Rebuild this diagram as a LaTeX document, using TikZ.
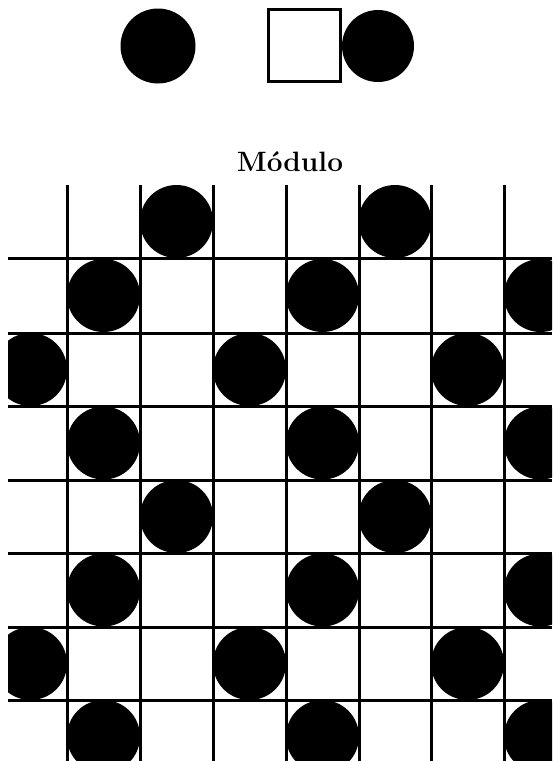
\documentclass[tikz,border=0pt]{standalone}
\usepackage{fontspec}
\begin{document}
\begin{tikzpicture}[x=1pt,y=-1pt,
  disc/.style={fill=black},
  gridline/.style={line width=3pt,draw=black},
  framebox/.style={line width=3pt,draw=black},
  titletext/.style={font=\fontsize{28}{30}\selectfont\bfseries,anchor=base,inner sep=0pt}]
\useasboundingbox (0,0) rectangle (552,761);
\fill[white] (0,0) rectangle (552,761);
% top legend
\fill[disc] (158,46) circle (37.5);
\draw[framebox] (268.5,9.5) rectangle (340.5,81.5);
\fill[disc] (378,46) circle (36);
\node[titletext] (title) at (290,171) {Módulo};
% pattern
\begin{scope}
\clip (8,185) rectangle (552,761);
\foreach \cx/\cy in {
  176.5/221.5, 395/221.5,
  103.5/295.5, 322.5/295.5, 540.5/295.5,
  30.5/369.5, 249.5/369.5, 467.5/369.5,
  103.5/443, 322.5/443, 540.5/443,
  176.5/516.5, 395/516.5,
  103.5/590, 322.5/590, 540.5/590,
  30.5/663.5, 249.5/663.5, 467.5/663.5,
  103.5/736.5, 322.5/736.5, 540.5/736.5}
  {\fill[disc] (\cx,\cy) circle (36.5);}
\foreach \gx in {67,140,213,286,359,431,504}
  {\draw[gridline] (\gx,185) -- (\gx,761);}
\foreach \gy in {258,333,406,480,553,627,700}
  {\draw[gridline] (8,\gy) -- (552,\gy);}
\end{scope}
\end{tikzpicture}
\end{document}
